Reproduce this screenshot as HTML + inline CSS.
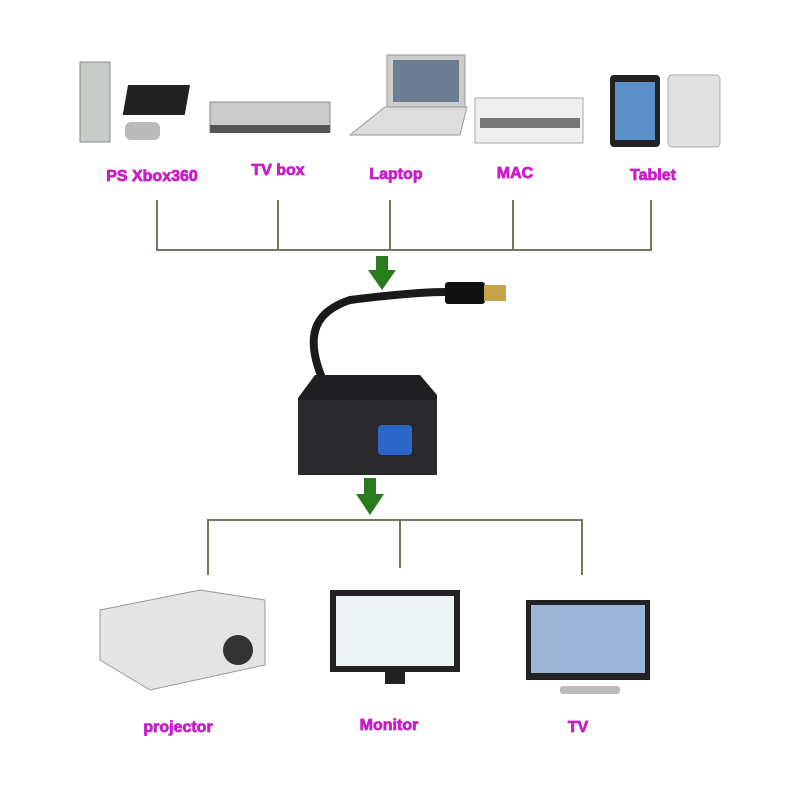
<!DOCTYPE html>
<html><head><meta charset="utf-8"><style>
body{margin:0;background:#fff;}
svg{display:block}
text{font-family:"Liberation Sans",sans-serif;font-weight:bold;fill:#c81fc8;font-size:16px;text-anchor:middle;stroke:#c81fc8;stroke-width:0.8px}
</style></head><body>
<svg width="800" height="800" viewBox="0 0 800 800">
<rect width="800" height="800" fill="#fff"/>
<rect x="80" y="62" width="30" height="80" fill="#c8ccc8" stroke="#888"/>
<rect x="143" y="85" width="62" height="30" fill="#222" transform="skewX(-10)"/>
<rect x="125" y="122" width="35" height="18" fill="#bbb" rx="6"/>
<rect x="210" y="102" width="120" height="30" fill="#ccc" stroke="#888"/>
<rect x="210" y="125" width="120" height="8" fill="#555"/>
<rect x="387" y="55" width="78" height="52" fill="#ccc" stroke="#999"/>
<rect x="393" y="60" width="66" height="42" fill="#6d7d92"/>
<polygon points="385,107 467,107 460,135 350,135" fill="#ddd" stroke="#999"/>
<rect x="475" y="98" width="108" height="45" fill="#eee" stroke="#aaa"/>
<rect x="480" y="118" width="100" height="10" fill="#777"/>
<rect x="610" y="75" width="50" height="72" fill="#222" rx="4"/>
<rect x="615" y="82" width="40" height="58" fill="#5a8fc8"/>
<rect x="668" y="75" width="52" height="72" fill="#e0e0e0" stroke="#aaa" rx="4"/>
<text x="152" y="181">PS Xbox360</text>
<text x="278" y="175">TV box</text>
<text x="396" y="179">Laptop</text>
<text x="515" y="178">MAC</text>
<text x="653" y="180">Tablet</text>
<g stroke="#707860" stroke-width="2" fill="none">
<path d="M157 200V250H651V200M278 200V250M390 200V250M513 200V250"/>
<path d="M208 575V520H582V575M400 520V568"/>
</g>
<polygon points="376,256 388,256 388,270 396,270 382,290 368,270 376,270" fill="#2a7a1e"/>
<polygon points="364,478 376,478 376,494 384,494 370,515 356,494 364,494" fill="#2a7a1e"/>
<path d="M325 385 C300 330 320 310 350 300 C390 295 420 292 445 292" stroke="#1a1a1a" stroke-width="8" fill="none"/>
<rect x="445" y="282" width="40" height="22" fill="#111" rx="3"/>
<rect x="484" y="285" width="22" height="16" fill="#c9a24a"/>
<polygon points="315,375 420,375 437,395 437,475 298,475 298,398" fill="#1f1f21"/>
<rect x="298" y="400" width="139" height="75" fill="#2a2a2c"/>
<rect x="378" y="425" width="34" height="30" fill="#2c66c8" rx="4"/>
<polygon points="100,610 200,590 265,600 265,665 150,690 100,660" fill="#e4e4e4" stroke="#999"/>
<circle cx="238" cy="650" r="15" fill="#333"/>
<rect x="330" y="590" width="130" height="82" fill="#222"/>
<rect x="336" y="596" width="118" height="70" fill="#eef3f6"/>
<rect x="385" y="672" width="20" height="12" fill="#222"/>
<rect x="526" y="600" width="124" height="80" fill="#222"/>
<rect x="531" y="605" width="114" height="68" fill="#9ab5d8"/>
<rect x="560" y="686" width="60" height="8" fill="#bbb" rx="3"/>
<text x="178" y="732">projector</text>
<text x="389" y="730">Monitor</text>
<text x="578" y="732">TV</text>
</svg>
</body></html>
